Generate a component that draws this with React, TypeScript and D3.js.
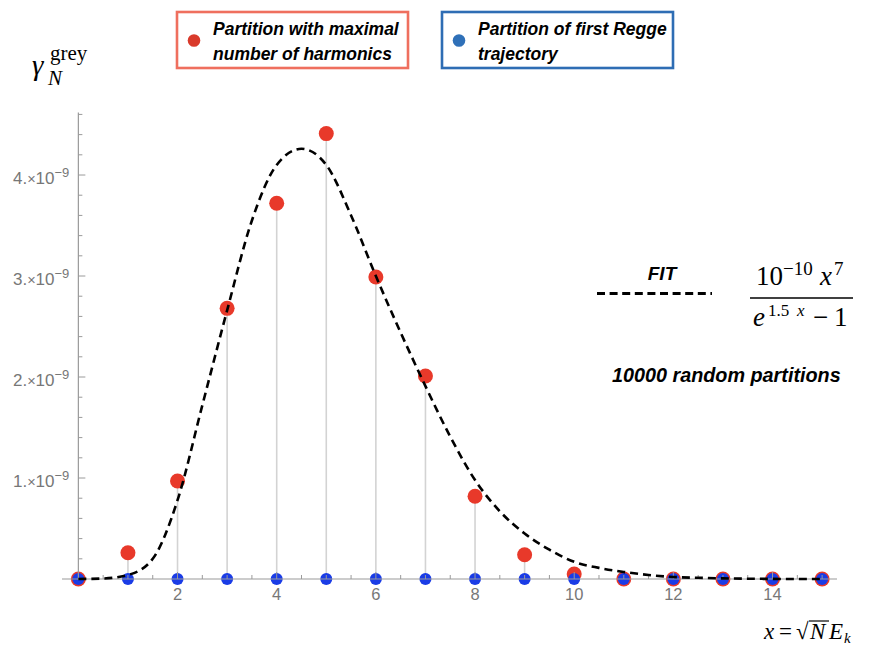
import React, { useEffect, useRef } from 'react';
import * as d3 from 'd3';

// partition index N (x = sqrt(N) E_k)
const nValues = [0, 1, 2, 3, 4, 5, 6, 7, 8, 9, 10, 11, 12, 13, 14, 15];
// gamma_N^grey for the partition with maximal number of harmonics
const maximalHarmonics = [0, 0.26e-9, 0.97e-9, 2.68e-9, 3.72e-9, 4.41e-9, 2.99e-9, 2.01e-9, 0.82e-9, 0.24e-9, 0.05e-9, 0, 0, 0, 0, 0];
// gamma_N^grey for the partition of first Regge trajectory
const firstRegge = [0, 0, 0, 0, 0, 0, 0, 0, 0, 0, 0, 0, 0, 0, 0, 0];
// fit curve
const fitX = [0, 0.5, 1, 1.5, 2, 2.5, 3, 3.5, 4, 4.5, 5, 5.5, 6, 6.5, 7, 7.5, 8, 8.5, 9, 9.5, 10, 10.5, 11, 11.5, 12, 12.5, 13, 13.5, 14, 14.5, 15];
const fitY = [0, 0.005e-9, 0.04e-9, 0.2e-9, 0.78e-9, 1.72e-9, 2.66e-9, 3.55e-9, 4.1e-9, 4.26e-9, 4.1e-9, 3.6e-9, 3.0e-9, 2.44e-9, 1.91e-9, 1.41e-9, 0.98e-9, 0.67e-9, 0.45e-9, 0.29e-9, 0.17e-9, 0.11e-9, 0.07e-9, 0.04e-9, 0.02e-9, 0.012e-9, 0.006e-9, 0.003e-9, 0.001e-9, 0, 0];

const xTicks = [2, 4, 6, 8, 10, 12, 14];
const yTicks = [1e-9, 2e-9, 3e-9, 4e-9];
const yTickLabels = ['1.', '2.', '3.', '4.'];

const sans = 'Liberation Sans, Arial, Helvetica, sans-serif';
const serif = 'Liberation Serif, Times New Roman, serif';

export default function App() {
  const ref = useRef<SVGSVGElement>(null);

  useEffect(() => {
    const el = ref.current;
    if (!el) return;
    const svg = d3.select(el);
    svg.selectAll('*').remove();

    const x = d3.scaleLinear().domain([-0.33, 15.3]).range([62, 837]);
    const y = d3.scaleLinear().domain([0, 4.62e-9]).range([579, 112.4]);
    const axisColor = '#9a9a9a';
    const labelColor = '#777';

    // stems
    svg.append('g')
      .selectAll('line')
      .data(nValues.filter((_, i) => maximalHarmonics[i] > 0))
      .enter()
      .append('line')
      .attr('x1', d => x(d))
      .attr('x2', d => x(d))
      .attr('y1', y(0))
      .attr('y2', d => y(maximalHarmonics[d]))
      .attr('stroke', '#d3d3d3')
      .attr('stroke-width', 1.6);

    // red points
    svg.append('g')
      .selectAll('circle')
      .data(nValues)
      .enter()
      .append('circle')
      .attr('cx', d => x(d))
      .attr('cy', (d, i) => y(maximalHarmonics[i]))
      .attr('r', 7.5)
      .attr('fill', '#e8392a');

    // blue points
    svg.append('g')
      .selectAll('circle')
      .data(nValues)
      .enter()
      .append('circle')
      .attr('cx', d => x(d))
      .attr('cy', (d, i) => y(firstRegge[i]))
      .attr('r', 6)
      .attr('fill', '#1a3ce6');

    // axes
    const ax = svg.append('g');
    ax.append('line')
      .attr('x1', x.range()[0]).attr('x2', x.range()[1])
      .attr('y1', y(0)).attr('y2', y(0))
      .attr('stroke', axisColor).attr('stroke-width', 1.2);
    ax.append('line')
      .attr('x1', x(0)).attr('x2', x(0))
      .attr('y1', y(0) + 1).attr('y2', y.range()[1])
      .attr('stroke', axisColor).attr('stroke-width', 1.2);

    const xMinor = d3.range(0.5, 15.01, 0.5).filter(v => v % 2 !== 0);
    ax.selectAll('.xminor')
      .data(xMinor)
      .enter()
      .append('line')
      .attr('x1', d => x(d)).attr('x2', d => x(d))
      .attr('y1', y(0)).attr('y2', y(0) - 4)
      .attr('stroke', axisColor).attr('stroke-width', 1);
    ax.selectAll('.xmajor')
      .data(xTicks)
      .enter()
      .append('line')
      .attr('x1', d => x(d)).attr('x2', d => x(d))
      .attr('y1', y(0)).attr('y2', y(0) - 7)
      .attr('stroke', axisColor).attr('stroke-width', 1);
    ax.selectAll('.xlabel')
      .data(xTicks)
      .enter()
      .append('text')
      .attr('x', d => x(d))
      .attr('y', y(0) + 21)
      .attr('text-anchor', 'middle')
      .attr('font-family', sans)
      .attr('font-size', 16.5)
      .attr('fill', labelColor)
      .text(d => d);

    const yMinor = d3.range(0.2e-9, 4.61e-9, 0.2e-9).filter((v, i) => (i + 1) % 5 !== 0);
    ax.selectAll('.yminor')
      .data(yMinor)
      .enter()
      .append('line')
      .attr('x1', x(0)).attr('x2', x(0) + 4)
      .attr('y1', d => y(d)).attr('y2', d => y(d))
      .attr('stroke', axisColor).attr('stroke-width', 1);
    ax.selectAll('.ymajor')
      .data(yTicks)
      .enter()
      .append('line')
      .attr('x1', x(0)).attr('x2', x(0) + 7)
      .attr('y1', d => y(d)).attr('y2', d => y(d))
      .attr('stroke', axisColor).attr('stroke-width', 1);
    const yl = ax.selectAll('.ylabel')
      .data(yTicks)
      .enter()
      .append('text')
      .attr('x', x(0) - 9)
      .attr('y', d => y(d) + 9)
      .attr('text-anchor', 'end')
      .attr('font-family', sans)
      .attr('font-size', 17)
      .attr('fill', labelColor);
    yl.append('tspan').text((d, i) => yTickLabels[i]);
    yl.append('tspan').attr('font-size', 14.5).text('×');
    yl.append('tspan').text('10');
    yl.append('tspan').attr('font-size', 13).attr('dy', -7).text('−9');

    // fit curve
    const line = d3.line<number>()
      .x(d => x(d))
      .y((d, i) => y(fitY[i]))
      .curve(d3.curveMonotoneX);
    svg.append('path')
      .datum(fitX)
      .attr('d', line)
      .attr('fill', 'none')
      .attr('stroke', '#000')
      .attr('stroke-width', 2.6)
      .attr('stroke-dasharray', '8,5');

    // y label
    const yLab = svg.append('g').attr('font-family', serif);
    yLab.append('text').attr('x', 32).attr('y', 75).attr('font-size', 29).attr('font-style', 'italic').text('γ');
    yLab.append('text').attr('x', 50).attr('y', 60).attr('font-size', 21).text('grey');
    yLab.append('text').attr('x', 48).attr('y', 85).attr('font-size', 21).attr('font-style', 'italic').text('N');

    // x label
    const xLab = svg.append('g').attr('font-family', serif).attr('font-size', 23);
    xLab.append('text').attr('x', 764).attr('y', 639).attr('font-style', 'italic').text('x');
    xLab.append('text').attr('x', 779).attr('y', 639).text('=');
    xLab.append('text').attr('x', 796).attr('y', 639).text('√');
    xLab.append('line').attr('x1', 809).attr('x2', 829).attr('y1', 621).attr('y2', 621).attr('stroke', '#000').attr('stroke-width', 1.2);
    xLab.append('text').attr('x', 810).attr('y', 639).attr('font-style', 'italic').text('N');
    xLab.append('text').attr('x', 829).attr('y', 639).attr('font-style', 'italic').text('E');
    xLab.append('text').attr('x', 844).attr('y', 643).attr('font-size', 15).attr('font-style', 'italic').text('k');

    // legend
    const legend = [
      { x: 177, border: '#ef6f5e', dot: '#d93a2b', lines: ['Partition with maximal', 'number of harmonics'] },
      { x: 442, border: '#2e6db4', dot: '#2f70b8', lines: ['Partition of first Regge', 'trajectory'] }
    ];
    const lg = svg.append('g').selectAll('g').data(legend).enter().append('g');
    lg.append('rect')
      .attr('x', d => d.x).attr('y', 12).attr('width', 231).attr('height', 56)
      .attr('fill', '#fff').attr('stroke', d => d.border).attr('stroke-width', 2.6);
    lg.append('circle')
      .attr('cx', d => d.x + 17).attr('cy', 40.5).attr('r', 6.3)
      .attr('fill', d => d.dot);
    lg.each(function (d) {
      const t = d3.select(this).append('text')
        .attr('font-family', sans).attr('font-size', 17.5)
        .attr('font-weight', 'bold').attr('font-style', 'italic');
      d.lines.forEach((s, i) => {
        t.append('tspan').attr('x', d.x + 36).attr('y', 35 + i * 24.5).text(s);
      });
    });

    // fit annotation
    const note = svg.append('g').attr('font-family', serif);
    note.append('text').attr('x', 662).attr('y', 280).attr('text-anchor', 'middle')
      .attr('font-family', sans).attr('font-size', 19).attr('font-weight', 'bold').attr('font-style', 'italic')
      .text('FIT');
    note.append('line').attr('x1', 597).attr('x2', 712).attr('y1', 293.5).attr('y2', 293.5)
      .attr('stroke', '#000').attr('stroke-width', 3).attr('stroke-dasharray', '8,4.6');
    // numerator 10^-10 x^7
    note.append('text').attr('x', 756).attr('y', 285).attr('font-size', 27).text('10');
    note.append('text').attr('x', 783).attr('y', 275).attr('font-size', 19).text('−10');
    note.append('text').attr('x', 820).attr('y', 285).attr('font-size', 27).attr('font-style', 'italic').text('x');
    note.append('text').attr('x', 834).attr('y', 275).attr('font-size', 19).text('7');
    note.append('line').attr('x1', 750).attr('x2', 853).attr('y1', 298).attr('y2', 298)
      .attr('stroke', '#000').attr('stroke-width', 1.3);
    // denominator e^{1.5x} - 1
    note.append('text').attr('x', 753).attr('y', 326).attr('font-size', 27).attr('font-style', 'italic').text('e');
    note.append('text').attr('x', 768).attr('y', 316).attr('font-size', 17).text('1.5');
    note.append('text').attr('x', 797).attr('y', 316).attr('font-size', 17).attr('font-style', 'italic').text('x');
    note.append('text').attr('x', 813).attr('y', 326).attr('font-size', 27).text('−');
    note.append('text').attr('x', 834).attr('y', 326).attr('font-size', 27).text('1');
    note.append('text').attr('x', 612).attr('y', 382)
      .attr('font-family', sans).attr('font-size', 19.8).attr('font-weight', 'bold').attr('font-style', 'italic')
      .text('10000 random partitions');

    return () => { svg.selectAll('*').remove(); };
  }, []);

  return (
    <svg
      ref={ref}
      width={875}
      height={647}
      style={{ position: 'absolute', left: 0, top: 0, background: '#fff' }}
    />
  );
}
